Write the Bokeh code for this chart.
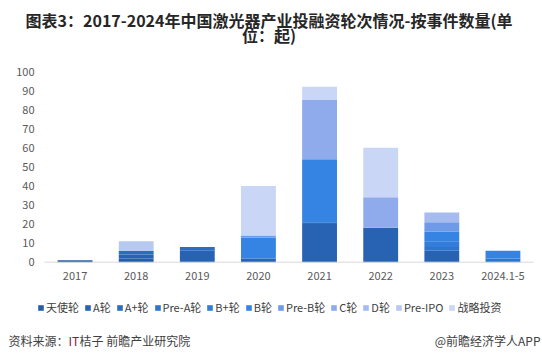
from bokeh.plotting import figure
from bokeh.models import Legend, LegendItem, Label, Range1d
from bokeh.embed import file_html
from bokeh.resources import INLINE

years = ["2017", "2018", "2019", "2020", "2021", "2022", "2023", "2024.1-5"]
rounds = ["天使轮", "A轮", "A+轮", "Pre-A轮", "B+轮", "B轮", "Pre-B轮", "C轮", "D轮", "Pre-IPO", "战略投资"]

angel      = [1, 2, 0, 0, 0, 0, 0, 0]
a_round    = [0, 2, 6, 2, 20, 18, 6, 0]
a_plus     = [0, 2, 2, 0, 1, 0, 0, 0]
pre_a      = [0, 0, 0, 0, 0, 0, 2, 2]
b_plus     = [0, 0, 0, 0, 0, 0, 3, 0]
b_round    = [0, 0, 0, 11, 33, 0, 5, 4]
pre_b      = [0, 0, 0, 1, 0, 0, 5, 0]
c_round    = [0, 0, 0, 0, 31, 16, 0, 0]
d_round    = [0, 0, 0, 0, 0, 0, 5, 0]
pre_ipo    = [0, 5, 0, 0, 0, 0, 0, 0]
strategic  = [0, 0, 0, 26, 7, 26, 0, 0]

y_ticks = [0, 10, 20, 30, 40, 50, 60, 70, 80, 90, 100]

title_line1 = "图表3：2017-2024年中国激光器产业投融资轮次情况-按事件数量(单"
title_line2 = "位：起)"
source_parts = ["资料来源：", "IT", "桔子 前瞻产业研究院"]
brand_text = "@前瞻经济学人APP"

colors = ["#255DA8", "#2863B3", "#2C6CC1", "#2F74CE", "#327CDA", "#3584E4",
          "#6E9AE8", "#8FABEC", "#A6BCEE", "#B7C8F1", "#C9D6F5"]

series = [angel, a_round, a_plus, pre_a, b_plus, b_round, pre_b, c_round, d_round, pre_ipo, strategic]
xpos = list(range(len(years)))
data = {"x": xpos}
for name, vals in zip(rounds, series):
    data[name] = vals

FONT = "Noto Sans CJK SC"
W, H = 542, 361

# plot area geometry (pixels): categories span 44..533, value 0 at y=261.7, 100 at y=71
cat_w = (533 - 44) / len(years)
x0 = 44 + cat_w / 2
px_per_unit = (261.7 - 71) / 100
x_range = Range1d(-x0 / cat_w, (W - x0) / cat_w)
y_range = Range1d(-(H - 261.7) / px_per_unit, 100 + 71 / px_per_unit)

p = figure(width=W, height=H, x_range=x_range, y_range=y_range,
           output_backend="svg", toolbar_location=None,
           x_axis_location=None, y_axis_location=None,
           min_border=0, min_border_left=0, min_border_right=0,
           min_border_top=0, min_border_bottom=0)
p.outline_line_color = None
p.xgrid.grid_line_color = None
p.ygrid.grid_line_color = None

renderers = p.vbar_stack(rounds, x="x", width=0.57, source=data, color=colors, line_color=None)

# baseline (category axis line)
p.segment(x0=[xpos[0] - 0.5], x1=[xpos[-1] + 0.5], y0=[0], y1=[0], line_color="#D9D9D9", line_width=1)

# y tick labels
for t in y_ticks:
    p.add_layout(Label(x=34, y=t, x_units="screen", y_units="data", text=str(t),
                       text_font=FONT, text_font_size="11px", text_color="#595959",
                       text_align="right", text_baseline="middle"))
# x tick labels
for i, yr in zip(xpos, years):
    p.add_layout(Label(x=i, y=H - 275, x_units="data", y_units="screen", text=yr,
                       text_font=FONT, text_font_size="11px", text_color="#595959",
                       text_align="center", text_baseline="middle"))


def lab(text, x, y, size, align="left", color="#262626", style="normal"):
    p.add_layout(Label(x=x, y=H - y, x_units="screen", y_units="screen", text=text,
                       text_font=FONT, text_font_size=size, text_align=align,
                       text_baseline="middle", text_color=color, text_font_style=style))


lab(title_line1, 268.5, 19, "16px", "center", "#262626", "bold")
lab(title_line2, 268.5, 34, "16px", "center", "#262626", "bold")
lab(source_parts[0], 8, 340, "12px", "left", "#404040")
lab(source_parts[1], 68, 340, "12px", "left", "#7A2040")
lab(source_parts[2], 79, 340, "12px", "left", "#404040")
lab(brand_text, 540, 340, "12px", "right", "#404040")

items = [LegendItem(label=name, renderers=[r]) for name, r in zip(rounds, renderers)]
legend = Legend(items=items, orientation="horizontal", location=(37, H - 315),
                glyph_width=7, glyph_height=7, label_standoff=2, spacing=5,
                padding=0, margin=0, border_line_color=None, background_fill_alpha=0,
                label_text_font=FONT, label_text_font_size="11px", label_text_color="#404040",
                label_height=12, label_width=10)
p.add_layout(legend, "center")

open("out.html", "w").write(file_html(p, INLINE))
